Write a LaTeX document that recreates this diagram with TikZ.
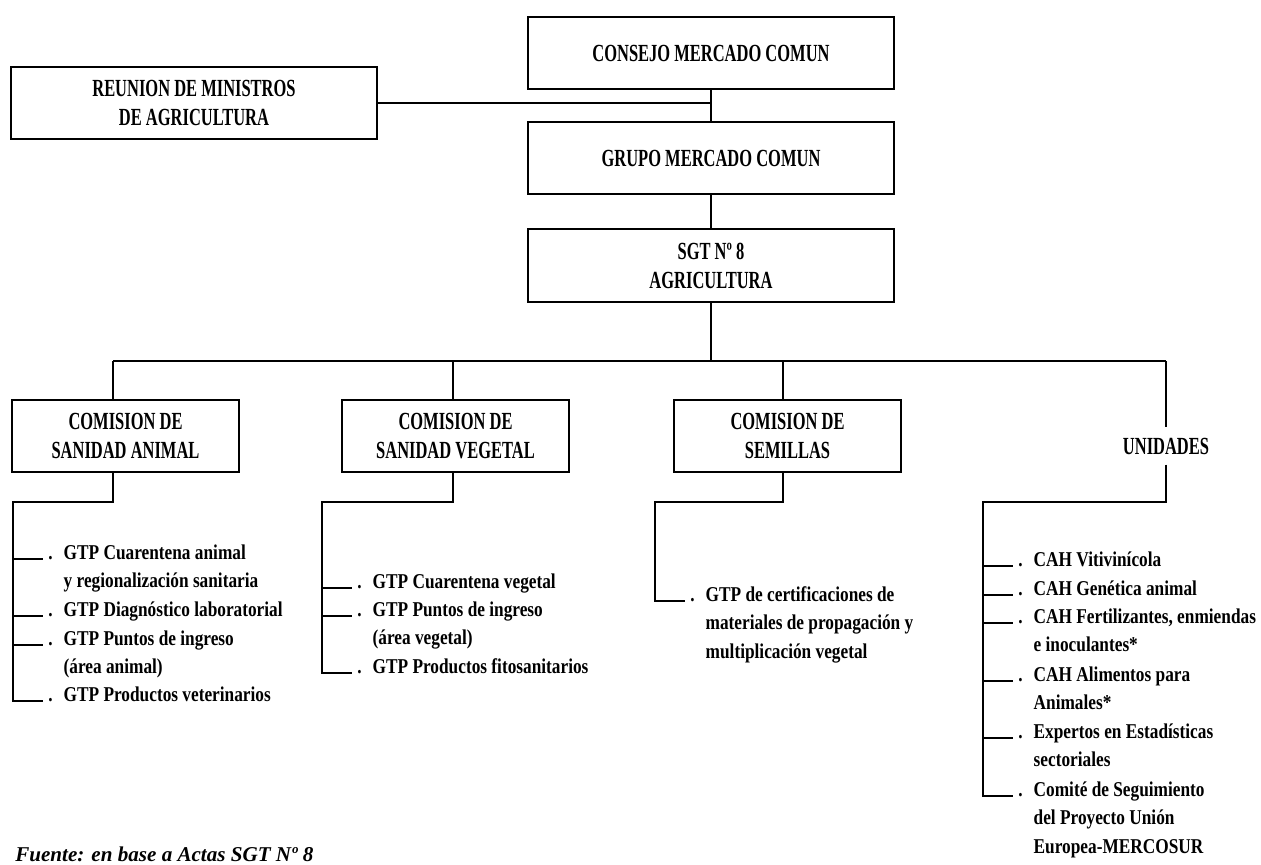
\documentclass[tikz,border=0pt]{standalone}
\usepackage{fontspec}
\setmainfont{Liberation Serif}
\newfontfamily\boxfont{Liberation Serif}[FakeStretch=0.67]
\newfontfamily\listfont{Liberation Serif}[FakeStretch=0.82]
\usetikzlibrary{calc}
\tikzset{
  orgbox/.style={draw, line width=1pt, minimum height=1.44cm, align=center, inner sep=2pt,
    font=\boxfont\bfseries\fontsize{14}{16.5}\selectfont},
  listtext/.style={anchor=base west, inner sep=0pt,
    font=\listfont\bfseries\fontsize{12}{16.3}\selectfont},
  orgline/.style={line width=1pt}
}
\newcommand{\listentry}[1]{\begin{tabular}[t]{@{}l@{\hspace{0.22cm}}l@{}}#1\end{tabular}}

\begin{document}
\begin{tikzpicture}[x=0.02cm,y=-0.02cm]
\useasboundingbox (0,0) rectangle (1261,865);
\clip (0,0) rectangle (1261,865);
% top of the chart
\node[orgbox, minimum width=7.32cm] (consejo) at (711,53) {CONSEJO MERCADO COMUN};
\node[orgbox, minimum width=7.32cm] (reunion) at (194,103) {REUNION DE MINISTROS\\DE AGRICULTURA};
\node[orgbox, minimum width=7.32cm] (grupo) at (711,158) {GRUPO MERCADO COMUN};
\node[orgbox, minimum width=7.32cm, minimum height=1.46cm] (sgt) at (711,265.5) {SGT Nº 8\\AGRICULTURA};
\draw[orgline] (consejo.south) -- (grupo.north);
\draw[orgline] (grupo.south) -- (sgt.north);
\draw[orgline] (reunion.east) -- (reunion.east -| consejo.south);

% the four branches
\coordinate (jA) at (113,361);
\coordinate (jV) at (453,361);
\coordinate (jS) at (783,361);
\coordinate (jU) at (1166,361);
\draw[orgline] (sgt.south) -- (sgt.south |- jA);
\draw[orgline] (jA) -- (jU);

\node[orgbox, minimum width=4.54cm] (animal) at (125.5,436) {COMISION DE\\SANIDAD ANIMAL};
\node[orgbox, minimum width=4.54cm] (vegetal) at (455.5,436) {COMISION DE\\SANIDAD VEGETAL};
\node[orgbox, minimum width=4.54cm] (semillas) at (787.5,436) {COMISION DE\\SEMILLAS};
\node[font=\boxfont\bfseries\fontsize{14}{16.5}\selectfont, inner xsep=2pt, inner ysep=0.2cm] (unidades) at (1166,446) {UNIDADES};
\draw[orgline] (jA) -- (jA |- animal.north);
\draw[orgline] (jV) -- (jV |- vegetal.north);
\draw[orgline] (jS) -- (jS |- semillas.north);
\draw[orgline] (jU) -- (unidades.north);

% sanidad animal
\coordinate (vA) at (13,502);
\node[listtext] (a1) at (48,559) {\listentry{.&GTP Cuarentena animal\\&y regionalización sanitaria}};
\node[listtext] (a2) at (48,616) {\listentry{.&GTP Diagnóstico laboratorial}};
\node[listtext] (a3) at (48,645) {\listentry{.&GTP Puntos de ingreso\\&(área animal)}};
\node[listtext] (a4) at (48,701) {\listentry{.&GTP Productos veterinarios}};
\draw[orgline] (jA |- animal.south) |- (vA) |- ([xshift=-0.1cm]a4.base west);
\foreach \i in {a1,a2,a3}
  \draw[orgline] (vA |- \i.base) -- ([xshift=-0.1cm]\i.base west);

% sanidad vegetal
\coordinate (vV) at (322,502);
\node[listtext] (v1) at (357,588) {\listentry{.&GTP Cuarentena vegetal}};
\node[listtext] (v2) at (357,616) {\listentry{.&GTP Puntos de ingreso\\&(área vegetal)}};
\node[listtext] (v3) at (357,673) {\listentry{.&GTP Productos fitosanitarios}};
\draw[orgline] (jV |- vegetal.south) |- (vV) |- ([xshift=-0.1cm]v3.base west);
\foreach \i in {v1,v2}
  \draw[orgline] (vV |- \i.base) -- ([xshift=-0.1cm]\i.base west);

% semillas
\coordinate (vS) at (655,502);
\node[listtext] (s1) at (690,601) {\listentry{.&GTP de certificaciones de\\&materiales de propagación y\\&multiplicación vegetal}};
\draw[orgline] (jS |- semillas.south) |- (vS) |- ([xshift=-0.1cm]s1.base west);

% unidades
\coordinate (vU) at (983,502);
\node[listtext] (u1) at (1018,566) {\listentry{.&CAH Vitivinícola}};
\node[listtext] (u2) at (1018,595) {\listentry{.&CAH Genética animal}};
\node[listtext] (u3) at (1018,623) {\listentry{.&CAH Fertilizantes, enmiendas\\&e inoculantes*}};
\node[listtext] (u4) at (1018,681) {\listentry{.&CAH Alimentos para\\&Animales*}};
\node[listtext] (u5) at (1018,738) {\listentry{.&Expertos en Estadísticas\\&sectoriales}};
\node[listtext] (u6) at (1018,796) {\listentry{.&Comité de Seguimiento\\&del Proyecto Unión\\&Europea-MERCOSUR}};
\draw[orgline] (unidades.south) |- (vU) |- ([xshift=-0.1cm]u6.base west);
\foreach \i in {u1,u2,u3,u4,u5}
  \draw[orgline] (vU |- \i.base) -- ([xshift=-0.1cm]\i.base west);

\node[anchor=base west, inner sep=0pt, font=\bfseries\itshape\fontsize{12}{14}\selectfont] (fuente) at (15,861) {Fuente: en base a Actas SGT Nº 8};
\end{tikzpicture}
\end{document}
